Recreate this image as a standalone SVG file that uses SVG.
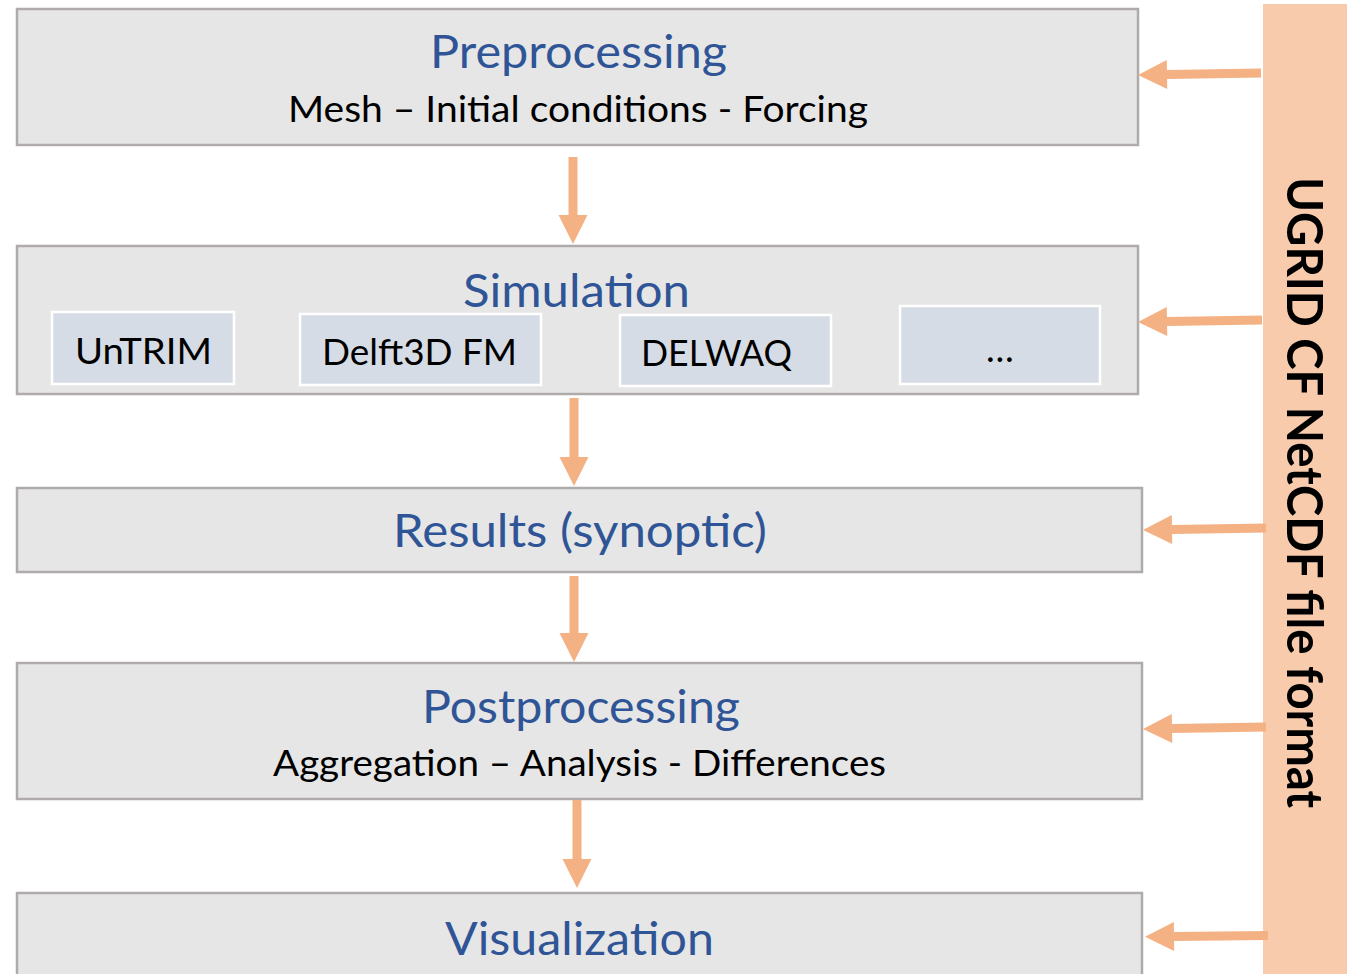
<svg xmlns="http://www.w3.org/2000/svg" width="1355" height="974" viewBox="0 0 1355 974">
  <style>
    .stage { fill: #E7E6E6; stroke: #AFABAB; stroke-width: 2.5; }
    .tool { fill: #D6DCE5; stroke: #FFFFFF; stroke-width: 2.5; }
    .title { font-family: Lato, "Open Sans", "Liberation Sans", sans-serif; font-size: 46px; fill: #2F5597; }
    .sub { font-family: Lato, "Open Sans", "Liberation Sans", sans-serif; font-size: 37px; fill: #000000; }
    .side { font-family: Lato, "Open Sans", "Liberation Sans", sans-serif; font-weight: bold; font-size: 49px; fill: #000000; }
    .flow { stroke: #F4B183; stroke-width: 9; fill: none; marker-end: url(#head); }
  </style>
  <defs>
    <marker id="head" markerUnits="userSpaceOnUse" markerWidth="30" markerHeight="30" refX="0" refY="14.5" orient="auto" overflow="visible">
      <path d="M0,0 L29,14.5 L0,29 Z" fill="#F4B183"/>
    </marker>
  </defs>

  <rect width="1355" height="974" fill="#FFFFFF"/>

  <!-- file format band on the right -->
  <g id="ugrid">
    <rect x="1263" y="4" width="84" height="980" fill="#F8CBAD"/>
    <text class="side" transform="translate(1287,177) rotate(90)" x="0" y="0" textLength="631" lengthAdjust="spacingAndGlyphs">UGRID CF NetCDF file format</text>
  </g>

  <g id="preprocessing">
    <rect class="stage" x="17" y="9" width="1121" height="136"/>
    <text class="title" x="430" y="68" textLength="297" lengthAdjust="spacingAndGlyphs">Preprocessing</text>
    <text class="sub" x="288" y="122" textLength="580" lengthAdjust="spacingAndGlyphs">Mesh – Initial conditions - Forcing</text>
  </g>

  <g id="simulation">
    <rect class="stage" x="17" y="246" width="1121" height="148"/>
    <text class="title" x="463" y="307" textLength="227" lengthAdjust="spacingAndGlyphs">Simulation</text>
    <g id="untrim">
      <rect class="tool" x="52" y="312" width="182" height="72"/>
      <text class="sub" x="75" y="364" textLength="137" lengthAdjust="spacingAndGlyphs">UnTRIM</text>
    </g>
    <g id="delft3d-fm">
      <rect class="tool" x="300" y="314" width="241" height="71"/>
      <text class="sub" x="322" y="365" textLength="195" lengthAdjust="spacingAndGlyphs">Delft3D FM</text>
    </g>
    <g id="delwaq">
      <rect class="tool" x="620" y="315" width="211" height="71"/>
      <text class="sub" x="641" y="366" textLength="151" lengthAdjust="spacingAndGlyphs">DELWAQ</text>
    </g>
    <g id="other-models">
      <rect class="tool" x="900" y="306" width="200" height="78"/>
      <text class="sub" x="1000" y="362" text-anchor="middle">…</text>
    </g>
  </g>

  <g id="results">
    <rect class="stage" x="17" y="488" width="1125" height="84"/>
    <text class="title" x="393" y="547" textLength="374" lengthAdjust="spacingAndGlyphs">Results (synoptic)</text>
  </g>

  <g id="postprocessing">
    <rect class="stage" x="17" y="663" width="1125" height="136"/>
    <text class="title" x="422" y="723" textLength="318" lengthAdjust="spacingAndGlyphs">Postprocessing</text>
    <text class="sub" x="273" y="776" textLength="613" lengthAdjust="spacingAndGlyphs">Aggregation – Analysis - Differences</text>
  </g>

  <g id="visualization">
    <rect class="stage" x="17" y="893" width="1125" height="100"/>
    <text class="title" x="445" y="955" textLength="269" lengthAdjust="spacingAndGlyphs">Visualization</text>
  </g>

  <!-- connectors -->
  <g id="connectors">
    <line class="flow" x1="573" y1="157" x2="573" y2="215"/>
    <line class="flow" x1="574" y1="398" x2="574" y2="457"/>
    <line class="flow" x1="574" y1="576" x2="574" y2="633"/>
    <line class="flow" x1="577" y1="800" x2="577" y2="859"/>

    <line class="flow" x1="1261" y1="73" x2="1167" y2="74.5"/>
    <line class="flow" x1="1262" y1="320" x2="1167" y2="321.5"/>
    <line class="flow" x1="1266" y1="528" x2="1172" y2="529.5"/>
    <line class="flow" x1="1266" y1="727" x2="1172" y2="728.5"/>
    <line class="flow" x1="1268" y1="935.5" x2="1174" y2="936.5"/>
  </g>
</svg>
